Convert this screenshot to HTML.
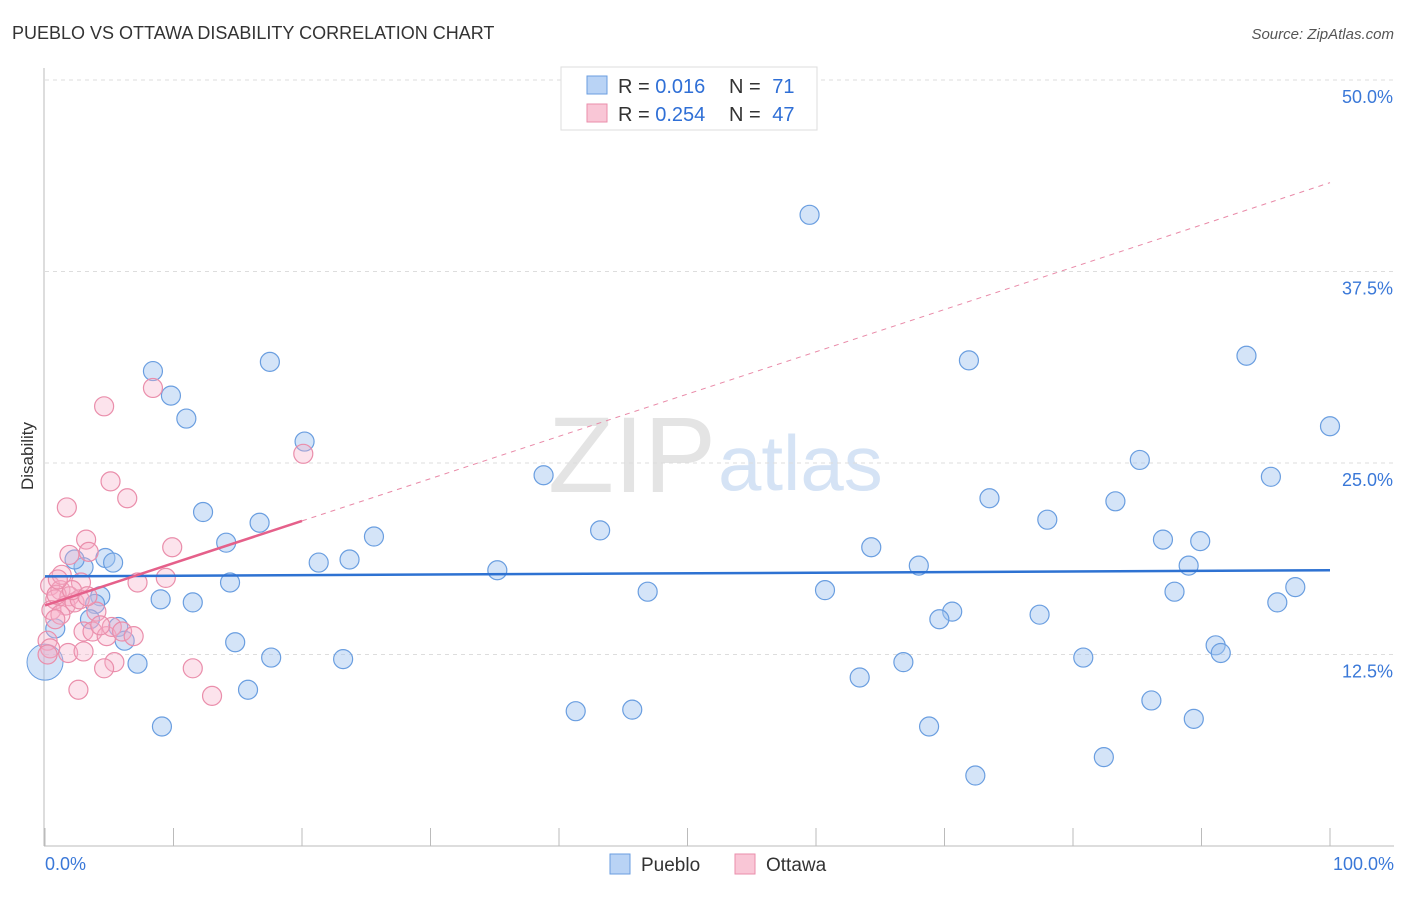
<!DOCTYPE html>
<html><head><meta charset="utf-8"><style>
body{margin:0;background:#fff;font-family:"Liberation Sans",sans-serif;}
svg text{font-family:"Liberation Sans",sans-serif;}
</style></head><body>
<svg id="c" width="1406" height="892">
<text x="12" y="39" font-size="18" fill="#333">PUEBLO VS OTTAWA DISABILITY CORRELATION CHART</text>
<text x="1394" y="39" font-size="15" fill="#555" text-anchor="end" font-style="italic">Source: ZipAtlas.com</text>
<text x="33" y="456" font-size="17" fill="#333" text-anchor="middle" transform="rotate(-90 33 456)">Disability</text>
<text x="716" y="492" font-size="108" fill="#e4e4e4" text-anchor="end" font-family="Liberation Serif">ZIP</text>
<text x="718" y="490" font-size="78" fill="#d5e3f5">atlas</text>
<g id="grid"></g><g id="axes"></g><g id="pts"></g><g id="trend"></g>
<g>
<rect x="561" y="67" width="256" height="63" fill="#fff" stroke="#ddd"/>
<rect x="587" y="76" width="20" height="18" fill="#b9d3f5" stroke="#6a9ee0"/>
<rect x="587" y="104" width="20" height="18" fill="#f9c6d6" stroke="#ea8eab"/>
<text x="618" y="93" font-size="20" fill="#333">R = <tspan fill="#2f6fd6">0.016</tspan></text>
<text x="729" y="93" font-size="20" fill="#333">N = <tspan fill="#2f6fd6" dx="6">71</tspan></text>
<text x="618" y="121" font-size="20" fill="#333">R = <tspan fill="#2f6fd6">0.254</tspan></text>
<text x="729" y="121" font-size="20" fill="#333">N = <tspan fill="#2f6fd6" dx="6">47</tspan></text>
</g>
<g>
<rect x="610" y="854" width="20" height="20" fill="#b9d3f5" stroke="#6a9ee0"/>
<text x="641" y="871" font-size="19" fill="#333">Pueblo</text>
<rect x="735" y="854" width="20" height="20" fill="#f9c6d6" stroke="#ea8eab"/>
<text x="766" y="871" font-size="19" fill="#333">Ottawa</text>
</g>
</svg>
<script>
const yTicks=[12.5,25,37.5,50];
const yTickLabels=["12.5%","25.0%","37.5%","50.0%"];
const xTickLabels=["0.0%","100.0%"];
const puebloX=[59.5,8.4,9.8,11.0,17.5,20.2,71.9,93.5,100,38.8,85.2,95.4,73.5,83.3,12.3,16.7,78.0,43.2,25.6,14.1,4.7,5.3,3.0,21.3,23.7,64.3,87.0,89.9,35.2,68.0,89.0,14.4,46.9,60.7,87.9,97.3,9.0,11.5,4.3,3.9,3.5,0.8,5.7,6.2,70.6,69.6,77.4,95.9,14.8,7.2,17.6,23.2,80.8,91.1,91.5,66.8,63.4,15.8,41.3,45.7,86.1,89.4,9.1,68.8,82.4,72.4,2.3];
const puebloY=[41.2,31.0,29.4,27.9,31.6,26.4,31.7,32.0,27.4,24.2,25.2,24.1,22.7,22.5,21.8,21.1,21.3,20.6,20.2,19.8,18.8,18.5,18.2,18.5,18.7,19.5,20.0,19.9,18.0,18.3,18.3,17.2,16.6,16.7,16.6,16.9,16.1,15.9,16.3,15.8,14.8,14.2,14.3,13.4,15.3,14.8,15.1,15.9,13.3,11.9,12.3,12.2,12.3,13.1,12.6,12.0,11.0,10.2,8.8,8.9,9.5,8.3,7.8,7.8,5.8,4.6,18.7];
const ottawaX=[8.4,4.6,5.1,6.4,1.7,20.1,3.2,9.9,1.9,3.4,2.8,7.2,9.4,0.4,1.2,0.8,1.9,1.6,2.3,0.5,1.2,2.7,0.9,0.2,3.0,3.7,4.8,5.2,6.0,6.9,0.4,1.8,3.0,0.2,5.4,4.6,11.5,2.6,13.0,1.3,4.0,2.1,1.0,3.3,4.3,0.8];
const ottawaY=[29.9,28.7,23.8,22.7,22.1,25.6,20.0,19.5,19.0,19.2,17.2,17.2,17.5,17.0,16.7,16.1,16.3,15.7,15.9,15.4,15.1,16.1,16.4,13.4,14.0,14.0,13.7,14.3,14.0,13.7,12.9,12.6,12.7,12.5,12.0,11.6,11.6,10.2,9.8,17.7,15.3,16.7,17.4,16.3,14.4,14.8];
const puebloTrend=[17.6,18.0];
const ottawaTrend=[15.7,43.3];
const ottawaSolidEnd=20;
const NS='http://www.w3.org/2000/svg';
const X=v=>45+v*12.85, Y=v=>846-v*15.32;
function mk(tag,a,p){const e=document.createElementNS(NS,tag);for(const k in a)e.setAttribute(k,a[k]);p.appendChild(e);return e;}
const grid=document.getElementById('grid'),axes=document.getElementById('axes'),pts=document.getElementById('pts'),tr=document.getElementById('trend');
yTicks.forEach((t,i)=>{
 const l=mk('line',{x1:45,x2:1394,y1:Y(t),y2:Y(t),stroke:'#ddd','stroke-dasharray':'4,4'},grid);
 
 
 const tx=mk('text',{x:1393,y:Y(t)+23,'font-size':18,fill:'#3a78d8','text-anchor':'end'},axes);
 tx.textContent=yTickLabels[i];
 
 
});
const ax=mk('line',{x1:44,x2:44,y1:68,y2:846,stroke:'#bbb'},axes);


const bx=mk('line',{x1:44,x2:1394,y1:846,y2:846,stroke:'#bbb'},axes);


for(let i=0;i<=10;i++){const t=mk('line',{x1:X(i*10),x2:X(i*10),y1:828,y2:846,stroke:'#bbb'},axes);
 
 }
[[0,'start',45],[100,'end',1394]].forEach((d,i)=>{const t=mk('text',{x:d[2],y:870,'font-size':18,fill:'#3a78d8','text-anchor':d[1]},axes);t.textContent=xTickLabels[i];
 
 });
puebloX.forEach((x,i)=>{const c=mk('circle',{cx:X(x),cy:Y(puebloY[i]),r:9.5,fill:'rgba(160,195,240,0.45)',stroke:'#6a9ee0','stroke-width':1.2},pts);
 
 });
const big=mk('circle',{cx:X(0),cy:Y(12),r:18,fill:'rgba(160,195,240,0.45)',stroke:'#6a9ee0'},pts);


ottawaX.forEach((x,i)=>{const c=mk('circle',{cx:X(x),cy:Y(ottawaY[i]),r:9.5,fill:'rgba(245,175,200,0.35)',stroke:'#ea8eab','stroke-width':1.2},pts);
 
 });
const b=mk('line',{x1:X(0),x2:X(100),y1:Y(puebloTrend[0]),y2:Y(puebloTrend[1]),stroke:'#2e72d2','stroke-width':2.5},tr);


const oy=x=>ottawaTrend[0]+(ottawaTrend[1]-ottawaTrend[0])*x/100;
const pd=mk('line',{x1:X(ottawaSolidEnd),x2:X(100),y1:Y(oy(ottawaSolidEnd)),y2:Y(oy(100)),stroke:'#e98aa8','stroke-width':1,'stroke-dasharray':'5,5'},tr);


const ps=mk('line',{x1:X(0),x2:X(ottawaSolidEnd),y1:Y(oy(0)),y2:Y(oy(ottawaSolidEnd)),stroke:'#e5608a','stroke-width':2.5},tr);


</script>
</body></html>
